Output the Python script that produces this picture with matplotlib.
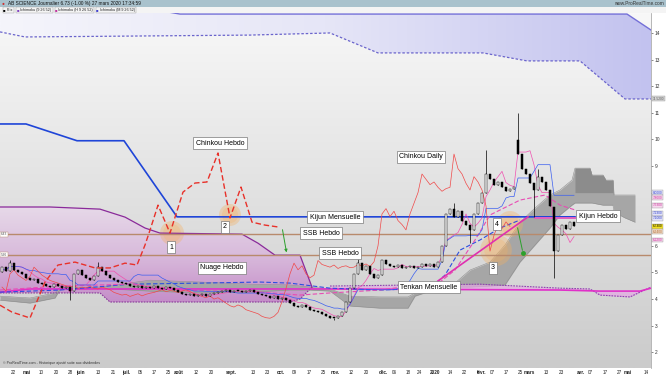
import numpy as np
import pandas as pd
import matplotlib
matplotlib.use("Agg")
import matplotlib.pyplot as plt
from matplotlib.colors import LinearSegmentedColormap
from matplotlib.patches import Polygon, Rectangle

plt.rcParams["font.family"] = ["Liberation Sans", "DejaVu Sans"]

# ==========================
# DATA
# ==========================

# daily closes, bar i drawn at x = i + 0.5
closes = [
    5.20, 5.05, 5.35, 5.10, 5.00,
    4.95, 4.80, 4.70, 4.75, 4.60,
    4.55, 4.50, 4.45, 4.55, 4.48, 4.40, 4.45, 4.30,
    4.95, 5.10, 4.90, 4.80, 4.70, 4.85,
    5.20,
    5.05, 4.90, 4.80, 4.70, 4.65, 4.60, 4.55, 4.50,
    4.45, 4.50, 4.40, 4.45, 4.42, 4.48, 4.40, 4.38, 4.45, 4.40, 4.35,
    4.25, 4.20, 4.15, 4.18, 4.10, 4.15, 4.20, 4.12, 4.18, 4.22, 4.25,
    4.30, 4.35, 4.28, 4.32, 4.30, 4.25, 4.30, 4.35, 4.28, 4.20,
    4.15, 4.10, 4.05, 4.12, 4.00, 4.05, 3.95,
    3.85, 3.75, 3.70, 3.78, 3.72,
    3.60, 3.55, 3.50, 3.45, 3.35, 3.30,
    3.28, 3.35, 3.50,
    3.90, 4.40, 4.95,
    5.35, 5.10, 5.25,
    4.95, 4.80, 4.90,
    5.45, 5.30,
    5.25, 5.20, 5.28, 5.15, 5.22, 5.25, 5.18, 5.20, 5.30,
    5.25, 5.32, 5.22, 5.40,
    6.00, 7.20,
    7.40, 7.10, 7.30,
    6.95, 6.80, 6.60,
    7.20, 7.60, 8.00,
    8.70, 8.50, 8.30,
    8.40, 8.20, 8.05, 8.15,
    8.20, 9.45,
    8.90, 8.70, 8.35,
    8.10,
    8.60, 8.40, 8.10,
    7.50,
    5.80,
    6.40,
    6.80, 6.65, 6.90, 6.73,
]
first_open = 5.00
open_fix = {129: 9.98, 138: 7.45}
high_fix = {2: 5.45, 24: 5.40, 89: 5.50, 113: 7.60, 121: 9.60, 129: 11.00, 134: 8.90}
low_fix = {17: 3.96, 83: 3.20, 117: 6.10, 133: 7.10, 138: 4.80}

CHINKOU_SHIFT = 16
TENKAN_LEN = 5
KIJUN_LEN = 16

# monthly cloud (top)
m_top_x = [0, 33.25, 45, 156.75, 162.75]
m_top = [15.30, 15.02, 14.71, 14.71, 14.11]
m_bot_x = [0, 6.25, 62.5, 82.5, 94.5, 120.75, 131.75, 145, 156.25, 162.75]
m_bot = [14.04, 13.85, 13.92, 14.00, 13.25, 13.25, 12.95, 12.95, 11.52, 11.52]

# monthly lines (bottom)
tenkan_m_x = [0, 7.5, 82.5, 140, 150, 160, 162.75]
tenkan_m = [4.26, 4.38, 4.38, 4.34, 4.30, 4.30, 4.41]
mc_x = [82.5, 120, 140, 147.5, 150, 157.5, 160, 162.75]
mc_a = [4.49, 4.56, 4.41, 4.38, 4.15, 4.08, 4.26, 4.45]
mc_b = [4.36, 4.36, 4.34, 4.32, 4.30, 4.30, 4.32, 4.41]

kijun_m_x = [0, 6.5, 19.25, 31, 44.25, 143.75]
kijun_m = [10.58, 10.58, 9.95, 9.95, 7.09, 7.09]

ssb_levels = [6.43, 5.66]

# weekly cloud
wk_top_x = [0, 12.5, 25, 31.25, 36.25, 40, 60.5, 64.5, 68.75, 75, 78]
wk_top = [7.46, 7.46, 7.38, 7.08, 6.67, 6.48, 6.44, 6.10, 5.65, 5.65, 4.45]
wk_bot_x = [0, 25, 27.5, 72.5, 75, 78]
wk_bot = [4.23, 4.23, 3.89, 3.89, 4.00, 4.45]

kijun_w_x = [0, 15, 32.5, 50, 65, 72.5, 82.5, 95, 107.5, 111.25, 115, 120, 125, 130]
kijun_w = [4.26, 4.34, 4.56, 4.60, 4.64, 4.60, 4.41, 4.34, 4.41, 4.90, 5.84, 6.22, 6.67, 6.97]
tenkan_w_x = [0, 15, 32.5, 45, 65, 75, 82.5, 95, 110, 113.75, 118.75, 122.5, 130, 136.25, 140, 143.75]
tenkan_w = [4.34, 4.49, 4.56, 4.34, 4.26, 4.15, 4.23, 4.34, 4.64, 5.09, 6.22, 7.16, 7.72, 7.91, 7.53, 7.35]
kijun_h_x = [133.75, 143.75]
kijun_h = [7.05, 7.05]

chinkou_w_x = [0, 3, 7.5, 11.25, 14.5, 18.75, 23.75, 27.5, 31.25, 34.25, 36.25, 37.5,
               39.5, 42.5, 45.75, 48.75, 51.75, 54.5, 57.5, 60.25, 63, 66.25, 69.5]
chinkou_w = [3.77, 3.51, 3.29, 4.64, 5.28, 5.39, 5.17, 5.17, 5.35, 5.28, 6.03, 6.59,
             7.53, 6.48, 8.02, 8.36, 8.40, 9.49, 7.05, 8.21, 6.89, 6.78, 6.71]

# daily cloud
cloud_x = [0, 7.5, 13.75, 15, 25, 37.5, 50, 62.5, 72.5, 77.5, 82.5, 87.5, 95, 102, 103.75,
           107.5, 113.75, 117.5, 122.5, 126.25, 130, 133.75, 137.5, 140, 143, 143.75,
           147.5, 148, 150.75, 151.5, 153.25, 153.5, 156.25, 158.75]
cloud_up = [4.11, 4.04, 4.23, 4.45, 4.45, 4.71, 4.64, 4.56, 4.53, 4.45, 4.38, 4.11, 4.08, 4.08,
            4.23, 4.34, 4.60, 5.09, 5.39, 6.03, 6.89, 7.42, 7.91, 8.10, 8.47, 8.92,
            8.92, 8.66, 8.66, 8.47, 8.47, 7.91, 7.91, 7.91]
cloud_lo = [3.96, 3.85, 4.04, 4.36, 4.40, 4.30, 4.23, 4.26, 4.34, 4.34, 4.30, 3.74, 3.66, 3.66,
            4.11, 4.30, 4.45, 4.45, 4.49, 4.53, 5.39, 6.03, 6.67, 7.16, 7.53, 7.61,
            7.61, 7.61, 7.53, 7.53, 7.53, 7.27, 7.05, 6.89]
dark_x = [143.75, 147.5, 148, 150.75, 151.5, 153.25]
dark_up = [8.92, 8.92, 8.66, 8.66, 8.47, 8.47]
dark_lo = [8.00, 8.00, 8.00, 8.00, 8.00, 8.00]

trend_x = [109.5, 132]
trend_y = [4.68, 7.09]

date_labels = ["22", "mai", "10", "20", "28", "juin", "13", "21", "juil.", "05", "17", "25",
               "août", "12", "20", "sept.", "13", "23", "oct.", "09", "17", "25", "nov.",
               "12", "20", "déc.", "06", "18", "24", "2020", "14", "22", "févr.", "07",
               "17", "25", "mars", "13", "23", "avr.", "07", "17", "27", "mai", "14"]
date_pos = [3.25, 6.75, 10.25, 14, 17.5, 20, 24.5, 28.25, 31.5, 35, 38.5, 42,
            44.75, 49, 52.75, 57.75, 63.25, 66.75, 70.25, 73.5, 77.25, 80.75, 83.75,
            87.75, 91.5, 95.75, 98.5, 102, 104.75, 108.75, 112.5, 116, 120.5, 123,
            126.5, 130, 132.25, 136.5, 140.25, 145.25, 147.5, 151.25, 154.75, 157, 161.5]
month_names = ["mai", "juin", "juil.", "août", "sept.", "oct.", "nov.", "déc.",
               "2020", "févr.", "mars", "avr."]

# price levels hidden behind the right tags
hidden_ticks = [7, 8]

tag_prices = [11.52, 8.00, 7.80, 7.53, 7.23, 7.10, 6.73, 6.64, 6.22]
tag_fg = ["#555555", "#3344cc", "#cc3399", "#cc3399", "#3344cc", "#3344cc", "#000000", "#aa6633", "#cc3399"]
tag_bg = ["#d6d6d6", "#e2e2f8", "#f6d8ee", "#f6d8ee", "#e2e2f8", "#e2e2f8", "#f2e020", "#f2dcc6", "#f6d8ee"]

legend_names = ["Prix", "Ichimoku (9 26 52)", "Ichimoku (H 9 26 52)", "Ichimoku (M 9 26 52)"]
legend_colors = ["#000000", "#8040c0", "#c030a0", "#4040d0"]

# ==========================
# CANDLES
# ==========================

n = len(closes)
opens = [first_open] + closes[:-1]
for k, v in open_fix.items():
    opens[k] = v
highs = [max(o, c) for o, c in zip(opens, closes)]
lows = [min(o, c) for o, c in zip(opens, closes)]
for k, v in high_fix.items():
    highs[k] = v
for k, v in low_fix.items():
    lows[k] = v
bx = np.arange(n) + 0.5

hs = pd.Series(highs)
ls = pd.Series(lows)
tenkan_d = (hs.rolling(TENKAN_LEN, min_periods=1).max() + ls.rolling(TENKAN_LEN, min_periods=1).min()) / 2
kijun_d = (hs.rolling(KIJUN_LEN, min_periods=1).max() + ls.rolling(KIJUN_LEN, min_periods=1).min()) / 2

# ==========================
# FIGURE
# ==========================

W, H = 666, 375
fig = plt.figure(figsize=(W / 100, H / 100), dpi=100)
fig.patch.set_facecolor("white")
ax = fig.add_axes([0, 7 / H, 651 / W, 355 / H])
X0, X1, Y0, Y1 = 0, 162.75, 1.41, 14.75

bg = LinearSegmentedColormap.from_list("bg", ["#cbcbcb", "#e2e2e2", "#f8f8f8"])
ax.imshow(np.linspace(0, 1, 256).reshape(-1, 1), extent=[X0, X1, Y0, Y1], origin="lower",
          aspect="auto", cmap=bg, zorder=0)

# monthly cloud band
lav_pts = list(zip(m_top_x, m_top)) + list(zip(m_bot_x[::-1], m_bot[::-1]))
lav_patch = Polygon(lav_pts, closed=True, fc="none", ec="none")
ax.add_patch(lav_patch)
lav = LinearSegmentedColormap.from_list("lav", ["#f5f5fb", "#e6e6f7", "#c2c2ef"])
im = ax.imshow(np.linspace(0, 1, 256).reshape(1, -1), extent=[X0, X1, 11, 15.5], origin="lower",
               aspect="auto", cmap=lav, zorder=1)
im.set_clip_path(lav_patch)
ax.plot(m_top_x, m_top, color="#7470d8", lw=1.0, zorder=3)
ax.plot(m_bot_x, m_bot, color="#6a64cc", lw=0.9, ls=(0, (2, 1.5)), zorder=3)

# weekly cloud
wk_pts = list(zip(wk_top_x, wk_top)) + list(zip(wk_bot_x[::-1], wk_bot[::-1]))
wk_patch = Polygon(wk_pts, closed=True, fc="none", ec="none")
ax.add_patch(wk_patch)
pink = LinearSegmentedColormap.from_list("pink", ["#c48cc8", "#d9bcdc", "#e8dcea"])
im2 = ax.imshow(np.linspace(0, 1, 256).reshape(-1, 1), extent=[X0, 80, 3.8, 7.6], origin="lower",
                aspect="auto", cmap=pink, zorder=1)
im2.set_clip_path(wk_patch)
ax.plot(wk_top_x, wk_top, color="#8a2a9a", lw=0.9, zorder=3)
ax.plot(wk_bot_x, wk_bot, color="#8a3a9a", lw=0.8, ls=(0, (1.5, 1)), zorder=3)

# daily cloud
ax.fill_between(cloud_x, cloud_lo, cloud_up, color="#a6a6a6", lw=0, zorder=2)
ax.fill_between(dark_x, dark_lo, dark_up, color="#8c8c8c", lw=0, zorder=2)
ax.plot(cloud_x, cloud_up, color="#8f8f8f", lw=0.4, zorder=2)
ax.plot(cloud_x, cloud_lo, color="#8f8f8f", lw=0.4, zorder=2)

# monthly bottom
ax.fill_between(mc_x, mc_b, mc_a, color="#e4a8e4", alpha=0.7, lw=0, zorder=2)
ax.plot(mc_x, mc_a, color="#9040b0", lw=0.8, ls=(0, (1.5, 1)), zorder=3)
ax.plot(tenkan_m_x, tenkan_m, color="#e030c8", lw=1.2, zorder=4)

# orange circles
circ_x = [43, 57.5, 124, 127.5]
circ_y = [6.48, 7.16, 5.84, 6.82]
circ_s = [300, 250, 520, 350]
ax.scatter(circ_x, circ_y, s=circ_s, color="#f5b060", alpha=0.35, edgecolors="none", zorder=2.5)
ax.scatter(circ_x, circ_y, s=[v * 0.55 for v in circ_s], color="#f5b060", alpha=0.25,
           edgecolors="none", zorder=2.5)

# horizontal levels
for lv in ssb_levels:
    ax.axhline(lv, color="#b88a6c", lw=1.0, zorder=3)
ax.plot(kijun_m_x, kijun_m, color="#1f45d8", lw=1.2, zorder=4)

# weekly lines
ax.plot(kijun_w_x, kijun_w, color="#2c4de0", lw=0.8, ls=(0, (4, 2)), zorder=4)
ax.plot(tenkan_w_x, tenkan_w, color="#e84cb4", lw=0.8, ls=(0, (4, 2)), zorder=4)
ax.plot(kijun_h_x, kijun_h, color="#e060c0", lw=1.4, zorder=4)

# daily lines
ax.plot(bx, tenkan_d, color="#f050b0", lw=0.5, zorder=4)
ax.plot(bx, kijun_d, color="#3a5ef0", lw=0.5, zorder=4)
ax.plot(bx[CHINKOU_SHIFT:] - CHINKOU_SHIFT, closes[CHINKOU_SHIFT:], color="#f04848", lw=0.5, zorder=4)

# candles
up = [c >= o for o, c in zip(opens, closes)]
ax.vlines(bx, lows, highs, color="black", lw=0.5, zorder=5)
body_h = [max(abs(c - o), 0.03) for o, c in zip(opens, closes)]
body_b = [min(o, c) for o, c in zip(opens, closes)]
ax.bar(bx, body_h, bottom=body_b, width=0.55, color=["white" if u else "black" for u in up],
       edgecolor="black", lw=0.35, zorder=5)

# chinkou hebdo + trendline
ax.plot(chinkou_w_x, chinkou_w, color="#e8312a", lw=1.0, ls=(0, (4, 2)), zorder=6)
ax.plot(trend_x, trend_y, color="#e030b0", lw=1.2, zorder=6)

# arrows
ax.annotate("", xy=(71.75, 5.65), xytext=(70.5, 6.71),
            arrowprops=dict(arrowstyle="-|>", color="#2ca02c", lw=0.7, mutation_scale=4), zorder=8)
ax.annotate("", xy=(130.75, 5.73), xytext=(129.25, 6.78),
            arrowprops=dict(arrowstyle="-", color="#2ca02c", lw=0.7), zorder=8)
ax.plot([130.75], [5.73], "o", ms=2.5, color="#2ca02c", zorder=8)

# text labels
box = dict(boxstyle="square,pad=0.35", fc="white", ec="#7a7a7a", lw=0.5)
labels = [("Chinkou Hebdo", 55, 9.86), ("Kijun Mensuelle", 83.75, 7.08), ("SSB Hebdo", 80.25, 6.48),
          ("SSB Hebdo", 85, 5.73), ("Nuage Hebdo", 55.5, 5.17), ("Chinkou Daily", 105.25, 9.34),
          ("Kijun Hebdo", 149.5, 7.12), ("Tenkan Mensuelle", 107.25, 4.45),
          ("1", 42.75, 5.95), ("2", 56.25, 6.71), ("3", 123.25, 5.17), ("4", 124.25, 6.82)]
for t, x, y in labels:
    ax.text(x, y, t, fontsize=5, ha="center", va="center", bbox=box, zorder=9)

# small left level tags
for lv in ssb_levels:
    ax.text(0.2, lv, f"{lv:.2f}", fontsize=2.3, ha="left", va="center", color="#555555",
            bbox=dict(boxstyle="square,pad=0.15", fc="white", ec="#b88a6c", lw=0.3), zorder=9)

ax.text(0.004, 0.012, "© ProRealTime.com - Historique ajusté suite aux dividendes",
        transform=ax.transAxes, fontsize=2.6, color="#333333", zorder=9)

# axes
ax.set_xlim(X0, X1)
ax.set_ylim(Y0, Y1)
for s in ["top", "left", "bottom"]:
    ax.spines[s].set_visible(False)
ax.spines["right"].set_color("#9a9a9a")
ax.spines["right"].set_linewidth(0.5)
ax.yaxis.tick_right()
yt = list(range(2, 15))
ax.set_yticks(yt)
ax.set_yticklabels(["" if v in hidden_ticks else str(v) for v in yt])
ax.tick_params(axis="y", labelsize=3.5, length=1.5, width=0.4, pad=1, colors="#333333")
ax.set_xticks(date_pos)
ax.set_xticklabels(date_labels)
ax.tick_params(axis="x", labelsize=3.3, length=0, pad=1.2, colors="#222222")
for lbl in ax.get_xticklabels():
    if lbl.get_text() in month_names:
        lbl.set_fontweight("bold")

# right tags, nudged apart so boxes do not overlap
tag_y = []
last = None
for p in tag_prices:
    yv = p if last is None else min(p, last - 0.2)
    tag_y.append(yv)
    last = yv
for p, yv, fg, bgc in zip(tag_prices, tag_y, tag_fg, tag_bg):
    ax.text(1.003, (yv - Y0) / (Y1 - Y0), f"{p:.4f}", transform=ax.transAxes, fontsize=2.3,
            color=fg, ha="left", va="center", clip_on=False, zorder=10,
            bbox=dict(boxstyle="square,pad=0.15", fc=bgc, ec="#9a9a9a", lw=0.3))

# header
fig.add_artist(Rectangle((0, 1 - 7 / H), 1, 7 / H, transform=fig.transFigure,
                         fc="#a9c2cd", ec="none"))
fig.add_artist(Rectangle((0, 1 - 13 / H), 1, 6 / H, transform=fig.transFigure,
                         fc="#f4f4f4", ec="none"))
fig.text(2 / W, 1 - 3.6 / H, "●", fontsize=3.5, color="#d03030", va="center")
fig.text(8 / W, 1 - 3.6 / H, "AB SCIENCE Journalier 6.73 (-1.00 %) 27 mars 2020 17:34:59",
         fontsize=3.4, va="center", color="#111111")
fig.text(664 / W, 1 - 3.6 / H, "www.ProRealTime.com", fontsize=3.4, va="center", ha="right",
         color="#333333")

renderer = fig.canvas.get_renderer()
cursor = 3
for t, c in zip(legend_names, legend_colors):
    fig.text(cursor / W, 1 - 10 / H, "■", fontsize=3.0, color=c, va="center")
    tx = fig.text((cursor + 4) / W, 1 - 10 / H, t, fontsize=2.7, va="center", color="#222222")
    ext = tx.get_window_extent(renderer)
    fig.add_artist(Rectangle((cursor / W, 1 - 13 / H), (ext.x1 + 1 - cursor) / W, 6 / H,
                             transform=fig.transFigure, fc="none", ec="#9a9a9a", lw=0.3))
    cursor = ext.x1 + 3

fig.savefig("out.png", dpi=100)
